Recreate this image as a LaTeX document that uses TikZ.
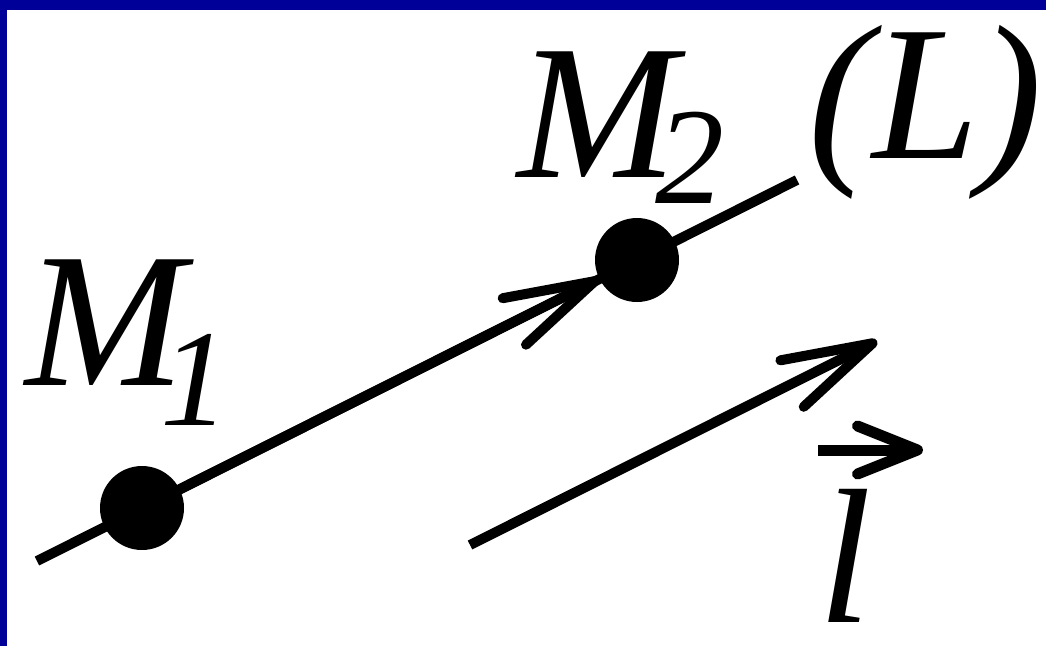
\documentclass[tikz,border=0pt]{standalone}
\usepackage{fontspec}
\setmainfont{Liberation Serif}[ItalicFont={Liberation Serif Italic}]
\newfontfamily\timesit{Liberation Serif Italic}
\usetikzlibrary{arrows.meta}
\definecolor{borderblue}{RGB}{0,0,153}
\begin{document}
\begin{tikzpicture}[x=1pt,y=-1pt,
  dot/.style={circle,fill=black,inner sep=0pt,minimum size=84pt},
  lab/.style={anchor=base west,inner sep=0pt,font=\timesit\fontsize{192}{192}\selectfont},
  mainline/.style={line width=10pt},
  vectip/.style={-{Straight Barb[length=90pt,width=52pt,round]},line width=10pt},
  overtip/.style={-{Straight Barb[length=60pt,width=48pt,round]},line width=11pt}
]
\useasboundingbox (0,0) rectangle (1046,646);
\fill[white] (0,0) rectangle (1046,646);
\fill[borderblue] (0,0) rectangle (1046,10);
\fill[borderblue] (0,0) rectangle (7,646);

% line L
\coordinate (Lstart) at (37,561);
\coordinate (Lend) at (797,180);
\draw[mainline] (Lstart) -- (Lend);

% points
\node[dot] (M1) at (142,508) {};
\node[dot] (M2) at (637,260) {};
\draw[vectip] (M1) -- (M2);

% free vector l
\coordinate (vstart) at (470,545);
\coordinate (vend) at (877,341);
\draw[vectip] (vstart) -- (vend);

% labels
\node[lab] (M1lab) at (25,385) {M\kern-25pt\raisebox{-40pt}{\fontsize{138}{138}\selectfont 1}};
\node[lab] (M2lab) at (517,177) {M\kern-22pt\raisebox{-26pt}{\fontsize{138}{138}\selectfont 2}};
\node[lab] (Llab) at (808,158) {(L)};
\node[lab] (vlab) at (818,622) {l};
\draw[overtip] ([shift={(0,-172)}]vlab.base west) -- ([shift={(105,-172)}]vlab.base west);
\end{tikzpicture}
\end{document}
